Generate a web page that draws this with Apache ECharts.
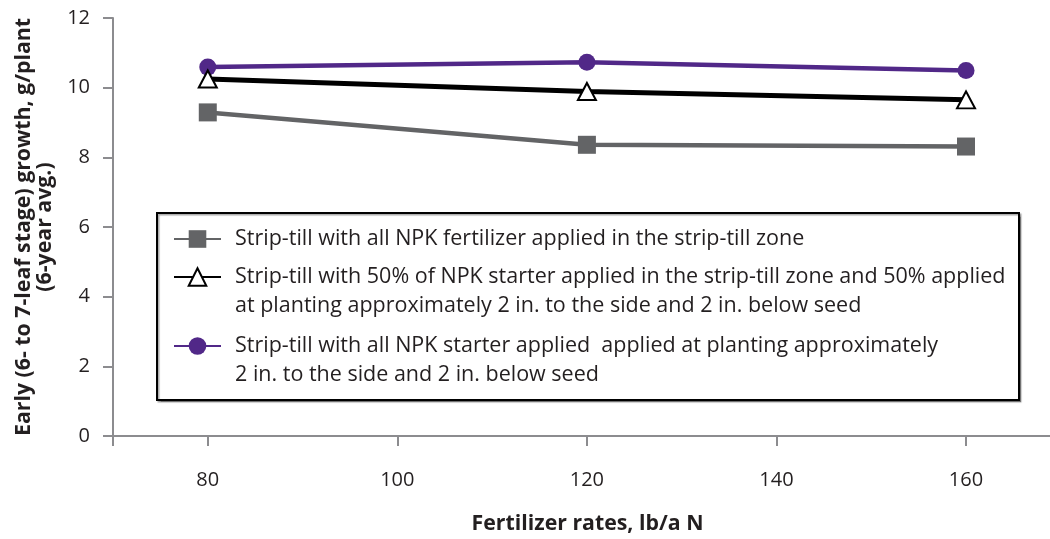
<!DOCTYPE html>
<html>
<head>
<meta charset="utf-8">
<script src="https://cdn.jsdelivr.net/npm/echarts@6/dist/echarts.min.js"></script>
<style>
html,body{margin:0;padding:0;background:#fff;}
#chart{width:1050px;height:539px;}
</style>
</head>
<body>
<div id="chart"></div>
<script>
// ---- data ----
const rates = [80, 120, 160];
const xTickValues = [70, 80, 100, 120, 140, 160];
const xLabelValues = [80, 100, 120, 140, 160];
const seriesNames = [
  'Strip-till with all NPK fertilizer applied in the strip-till zone',
  'Strip-till with 50% of NPK starter applied in the strip-till zone and 50% applied\nat planting approximately 2 in. to the side and 2 in. below seed',
  'Strip-till with all NPK starter applied  applied at planting approximately\n2 in. to the side and 2 in. below seed'
];
const allInStripZone = [9.29, 8.36, 8.31];
const halfStarter = [10.25, 9.89, 9.65];
const allStarter = [10.59, 10.73, 10.49];
const yName = 'Early (6- to 7-leaf stage) growth, g/plant\n(6-year avg.)';
const xName = 'Fertilizer rates, lb/a N';

const FONT = 'Open Sans';
const TXT = '#231f20';
const AX = '#8c8c8f';

const pairs = arr => rates.map((r, i) => [r, arr[i]]);

const chart = echarts.init(document.getElementById('chart'), null, {renderer: 'canvas'});

function legendBlock(name, top, twoLine) {
  return {
    data: [name],
    orient: 'vertical',
    left: 173,
    top: top,
    padding: 0,
    itemWidth: 47,
    itemHeight: 22,
    selectedMode: false,
    formatter: n => twoLine ? ' \n' + n : n,
    textStyle: {
      fontFamily: FONT,
      fontSize: 21.5,
      color: TXT,
      lineHeight: 29,
      padding: [0, 0, 0, 9]
    }
  };
}

chart.setOption({
  animation: false,
  backgroundColor: '#fff',
  grid: {left: 113, right: 0, top: 18, bottom: 102, containLabel: false},
  xAxis: {
    type: 'value',
    min: 70,
    max: 168.86,
    name: xName,
    nameLocation: 'middle',
    nameGap: 77,
    nameTextStyle: {fontFamily: FONT, fontSize: 21.3, fontWeight: 'bold', color: TXT, padding: [0, 0, 0, 12]},
    axisLine: {show: true, lineStyle: {color: AX, width: 2}},
    axisTick: {show: true, length: 10, lineStyle: {color: AX, width: 2}, customValues: xTickValues},
    axisLabel: {fontFamily: FONT, fontSize: 20, color: TXT, margin: 34, customValues: xLabelValues},
    splitLine: {show: false}
  },
  yAxis: {
    type: 'value',
    min: 0,
    max: 12,
    interval: 2,
    name: yName,
    nameLocation: 'middle',
    nameRotate: 90,
    nameGap: 58,
    nameTextStyle: {fontFamily: FONT, fontSize: 21.3, fontWeight: 'bold', color: TXT, lineHeight: 21, align: 'center'},
    axisLine: {show: true, lineStyle: {color: AX, width: 2}},
    axisTick: {show: true, length: 10, lineStyle: {color: AX, width: 2}},
    axisLabel: {fontFamily: FONT, fontSize: 20, color: TXT, margin: 23},
    splitLine: {show: false}
  },
  graphic: [{
    type: 'rect',
    z: 0,
    shape: {x: 157, y: 213, width: 862, height: 187},
    style: {fill: '#fff', stroke: '#000', lineWidth: 2, shadowColor: 'rgba(0,0,0,0.35)', shadowOffsetX: 1.5, shadowOffsetY: 1.5, shadowBlur: 1}
  }],
  legend: [
    legendBlock(seriesNames[0], 224.5, false),
    legendBlock(seriesNames[1], 233.5, true),
    legendBlock(seriesNames[2], 302.5, true)
  ],
  series: [
    {
      name: seriesNames[0],
      type: 'line',
      data: pairs(allInStripZone),
      symbol: 'rect',
      symbolSize: 18,
      itemStyle: {color: '#636466'},
      lineStyle: {color: '#636466', width: 4.5},
      z: 3
    },
    {
      name: seriesNames[1],
      type: 'line',
      data: pairs(halfStarter),
      symbol: 'triangle',
      symbolSize: [18, 17],
      itemStyle: {color: '#fff', borderColor: '#000', borderWidth: 2},
      lineStyle: {color: '#000', width: 5},
      z: 4
    },
    {
      name: seriesNames[2],
      type: 'line',
      data: pairs(allStarter),
      symbol: 'circle',
      symbolSize: 17,
      itemStyle: {color: '#512888'},
      lineStyle: {color: '#512888', width: 4.5},
      z: 3
    }
  ]
});
</script>
</body>
</html>
